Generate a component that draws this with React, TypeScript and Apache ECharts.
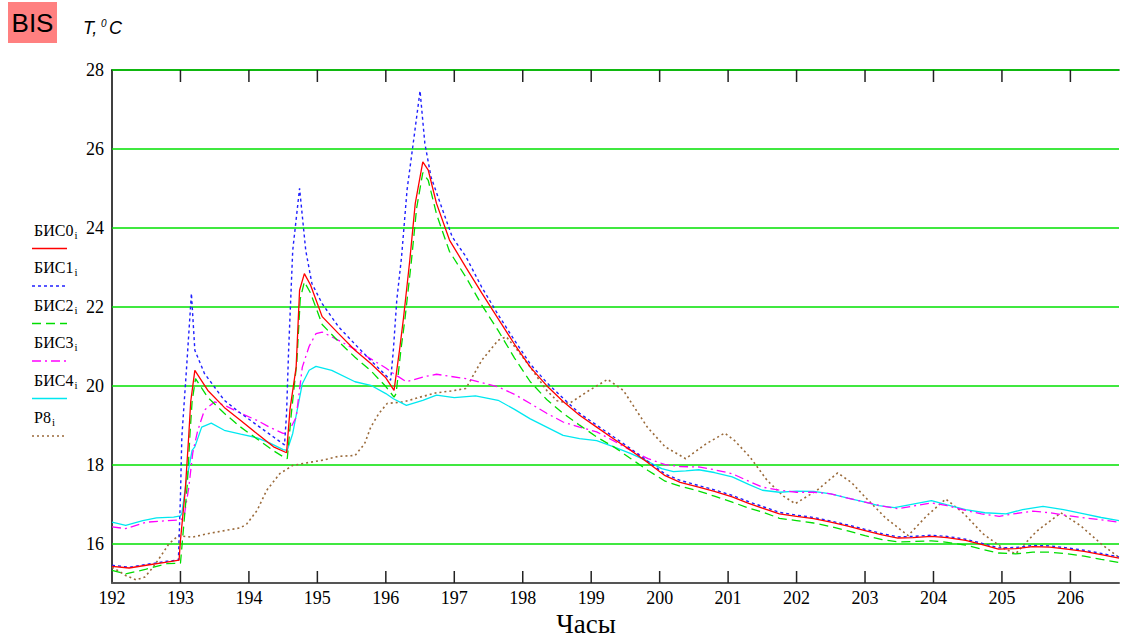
import React, { useEffect, useRef } from "react";
import * as echarts from "echarts";

const X_MIN = 192;
const X_MAX = 206.71;
const Y_MIN = 15;
const Y_MAX = 28;
const GRID_VALUES = [16, 18, 20, 22, 24, 26, 28];
const X_TICKS = [193, 194, 195, 196, 197, 198, 199, 200, 201, 202, 203, 204, 205, 206];

const SERIES_NAMES = ["БИС0", "БИС1", "БИС2", "БИС3", "БИС4", "P8"];

const BIS0: number[][] = [
  [192.0, 15.42], [192.25, 15.38], [192.5, 15.45], [192.8, 15.53], [192.98, 15.58], [193.0, 16.08], [193.07, 17.35], [193.12, 18.7], [193.15, 19.6], [193.21, 20.39], [193.4, 19.88], [193.64, 19.45], [193.88, 19.12], [194.12, 18.78], [194.36, 18.45], [194.55, 18.3], [194.6, 19.4], [194.69, 20.47], [194.74, 22.42], [194.81, 22.84], [194.9, 22.55], [195.07, 21.75], [195.31, 21.32], [195.55, 20.9], [195.78, 20.56], [196.0, 20.2], [196.12, 19.88], [196.2, 20.9], [196.26, 21.74], [196.35, 23.18], [196.43, 24.62], [196.54, 25.67], [196.62, 25.46], [196.74, 24.62], [196.93, 23.69], [197.17, 23.0], [197.4, 22.35], [197.64, 21.7], [197.88, 21.05], [198.11, 20.47], [198.35, 20.0], [198.59, 19.6], [198.83, 19.25], [199.08, 18.95], [199.33, 18.65], [199.58, 18.36], [199.83, 18.05], [200.08, 17.72], [200.3, 17.55], [200.57, 17.43], [200.8, 17.32], [201.06, 17.18], [201.3, 17.02], [201.5, 16.9], [201.75, 16.75], [202.0, 16.69], [202.25, 16.63], [202.5, 16.54], [202.75, 16.44], [203.0, 16.33], [203.25, 16.22], [203.48, 16.14], [203.7, 16.15], [203.97, 16.18], [204.2, 16.15], [204.47, 16.08], [204.7, 15.98], [204.95, 15.86], [205.2, 15.87], [205.45, 15.92], [205.7, 15.91], [205.95, 15.86], [206.2, 15.8], [206.45, 15.72], [206.71, 15.63],
];

const BIS1: number[][] = [
  [192.0, 15.45], [192.25, 15.4], [192.5, 15.47], [192.8, 15.55], [192.97, 15.58], [193.0, 17.2], [193.02, 18.7], [193.09, 20.47], [193.16, 22.34], [193.21, 20.9], [193.35, 20.31], [193.64, 19.63], [193.88, 19.3], [194.12, 19.0], [194.36, 18.7], [194.52, 18.5], [194.55, 19.3], [194.58, 20.9], [194.64, 23.43], [194.74, 25.0], [194.83, 23.43], [194.92, 22.59], [195.07, 22.08], [195.31, 21.49], [195.55, 21.05], [195.78, 20.64], [196.07, 20.14], [196.11, 20.9], [196.16, 22.17], [196.23, 23.27], [196.31, 24.96], [196.4, 26.14], [196.5, 27.47], [196.57, 26.14], [196.66, 25.29], [196.83, 24.45], [196.97, 23.77], [197.17, 23.27], [197.4, 22.5], [197.64, 21.8], [197.88, 21.15], [198.11, 20.55], [198.35, 20.08], [198.59, 19.68], [198.83, 19.3], [199.08, 19.0], [199.33, 18.7], [199.58, 18.4], [199.83, 18.08], [200.08, 17.76], [200.3, 17.6], [200.57, 17.47], [200.8, 17.36], [201.06, 17.22], [201.3, 17.06], [201.5, 16.94], [201.75, 16.79], [202.0, 16.72], [202.25, 16.66], [202.5, 16.57], [202.75, 16.47], [203.0, 16.36], [203.25, 16.25], [203.48, 16.17], [203.7, 16.18], [203.97, 16.21], [204.2, 16.18], [204.47, 16.11], [204.7, 16.01], [204.95, 15.89], [205.2, 15.9], [205.45, 15.95], [205.7, 15.94], [205.95, 15.89], [206.2, 15.83], [206.45, 15.75], [206.71, 15.66],
];

const BIS2: number[][] = [
  [192.0, 15.32], [192.2, 15.23], [192.5, 15.35], [192.8, 15.49], [193.0, 15.5], [193.03, 16.1], [193.1, 17.5], [193.14, 18.8], [193.17, 19.6], [193.22, 20.18], [193.4, 19.7], [193.64, 19.3], [193.88, 18.95], [194.12, 18.65], [194.36, 18.35], [194.52, 18.18], [194.56, 18.15], [194.62, 19.3], [194.7, 20.6], [194.75, 22.2], [194.81, 22.63], [194.9, 22.35], [195.07, 21.55], [195.31, 21.12], [195.55, 20.72], [195.78, 20.38], [196.0, 19.98], [196.12, 19.71], [196.15, 19.8], [196.22, 20.9], [196.28, 21.7], [196.37, 23.1], [196.45, 24.5], [196.54, 25.4], [196.62, 25.2], [196.74, 24.35], [196.93, 23.4], [197.17, 22.75], [197.4, 22.05], [197.64, 21.4], [197.88, 20.7], [198.11, 20.1], [198.35, 19.65], [198.59, 19.3], [198.83, 19.0], [199.08, 18.7], [199.33, 18.45], [199.58, 18.15], [199.83, 17.85], [200.08, 17.58], [200.3, 17.45], [200.57, 17.33], [200.8, 17.2], [201.06, 17.05], [201.3, 16.9], [201.5, 16.8], [201.75, 16.64], [202.0, 16.58], [202.25, 16.52], [202.5, 16.43], [202.75, 16.32], [203.0, 16.2], [203.25, 16.1], [203.48, 16.04], [203.7, 16.05], [203.97, 16.07], [204.2, 16.03], [204.47, 15.96], [204.7, 15.86], [204.95, 15.76], [205.2, 15.74], [205.45, 15.78], [205.7, 15.78], [205.95, 15.74], [206.2, 15.68], [206.45, 15.6], [206.71, 15.52],
];

const BIS3: number[][] = [
  [192.0, 16.42], [192.2, 16.38], [192.5, 16.54], [192.8, 16.58], [193.0, 16.6], [193.05, 16.65], [193.12, 17.4], [193.18, 18.3], [193.25, 18.85], [193.35, 19.38], [193.5, 19.59], [193.65, 19.5], [193.88, 19.3], [194.12, 19.12], [194.3, 18.95], [194.5, 18.79], [194.57, 18.8], [194.69, 19.2], [194.78, 20.47], [194.88, 21.0], [194.98, 21.32], [195.07, 21.36], [195.31, 21.15], [195.55, 20.92], [195.78, 20.68], [196.0, 20.45], [196.11, 20.31], [196.3, 20.1], [196.54, 20.22], [196.74, 20.29], [196.93, 20.24], [197.17, 20.18], [197.4, 20.08], [197.64, 19.97], [197.88, 19.78], [198.11, 19.55], [198.35, 19.3], [198.59, 19.08], [198.83, 18.95], [199.08, 18.83], [199.33, 18.6], [199.58, 18.36], [199.83, 18.15], [200.08, 18.0], [200.3, 17.95], [200.57, 17.94], [200.8, 17.87], [201.06, 17.77], [201.3, 17.58], [201.5, 17.43], [201.75, 17.35], [202.0, 17.3], [202.25, 17.3], [202.5, 17.26], [202.75, 17.15], [203.0, 17.05], [203.25, 16.95], [203.48, 16.88], [203.7, 16.95], [203.97, 17.03], [204.2, 16.96], [204.47, 16.84], [204.7, 16.75], [204.96, 16.69], [205.2, 16.76], [205.45, 16.82], [205.7, 16.78], [205.95, 16.71], [206.2, 16.65], [206.45, 16.6], [206.71, 16.54],
];

const BIS4: number[][] = [
  [192.0, 16.54], [192.2, 16.46], [192.45, 16.58], [192.65, 16.65], [192.9, 16.67], [193.0, 16.7], [193.02, 16.76], [193.08, 17.52], [193.17, 18.36], [193.21, 18.45], [193.31, 18.95], [193.45, 19.05], [193.64, 18.87], [193.88, 18.77], [194.12, 18.68], [194.3, 18.55], [194.5, 18.38], [194.56, 18.36], [194.64, 18.79], [194.78, 20.05], [194.88, 20.39], [194.98, 20.49], [195.21, 20.39], [195.55, 20.1], [195.78, 20.01], [196.0, 19.8], [196.11, 19.67], [196.3, 19.5], [196.54, 19.63], [196.74, 19.76], [197.0, 19.7], [197.31, 19.74], [197.64, 19.63], [197.88, 19.4], [198.11, 19.16], [198.35, 18.95], [198.59, 18.74], [198.83, 18.66], [199.08, 18.61], [199.33, 18.45], [199.58, 18.28], [199.83, 18.08], [200.03, 17.9], [200.2, 17.82], [200.38, 17.84], [200.57, 17.87], [200.8, 17.8], [201.06, 17.69], [201.3, 17.5], [201.5, 17.35], [201.75, 17.3], [202.0, 17.33], [202.25, 17.32], [202.5, 17.26], [202.75, 17.15], [203.0, 17.05], [203.2, 16.96], [203.43, 16.91], [203.7, 17.0], [203.97, 17.09], [204.2, 16.98], [204.47, 16.86], [204.75, 16.78], [205.06, 16.75], [205.3, 16.86], [205.6, 16.94], [205.9, 16.86], [206.2, 16.75], [206.45, 16.66], [206.71, 16.58],
];

const P8: number[][] = [
  [192.0, 15.4], [192.1, 15.3], [192.2, 15.19], [192.35, 15.08], [192.48, 15.15], [192.6, 15.4], [192.72, 15.7], [192.83, 15.99], [192.97, 16.2], [193.17, 16.16], [193.4, 16.25], [193.65, 16.33], [193.88, 16.4], [193.97, 16.5], [194.12, 16.84], [194.26, 17.35], [194.45, 17.77], [194.64, 17.98], [194.93, 18.07], [195.1, 18.12], [195.31, 18.21], [195.55, 18.23], [195.69, 18.53], [195.78, 18.95], [195.9, 19.3], [196.02, 19.55], [196.26, 19.59], [196.5, 19.71], [196.74, 19.82], [196.97, 19.87], [197.17, 19.93], [197.4, 20.64], [197.64, 21.15], [197.76, 21.24], [197.9, 20.95], [198.11, 20.47], [198.35, 19.88], [198.5, 19.62], [198.68, 19.55], [198.97, 19.88], [199.24, 20.16], [199.47, 19.88], [199.65, 19.4], [199.82, 18.95], [200.08, 18.45], [200.38, 18.15], [200.68, 18.53], [200.95, 18.8], [201.1, 18.6], [201.32, 18.19], [201.57, 17.6], [201.81, 17.2], [201.98, 17.01], [202.3, 17.35], [202.6, 17.79], [202.8, 17.55], [203.0, 17.18], [203.3, 16.65], [203.63, 16.2], [203.9, 16.7], [204.18, 17.13], [204.45, 16.75], [204.72, 16.25], [205.0, 15.9], [205.2, 15.74], [205.5, 16.3], [205.86, 16.78], [206.15, 16.45], [206.45, 15.99], [206.71, 15.65],
];

const SERIES_DATA = [BIS0, BIS1, BIS2, BIS3, BIS4, P8];
const SERIES_COLORS = ["#ff0000", "#2020ff", "#00dd00", "#ff00ff", "#00e8f0", "#9a6a3a"];
const SERIES_DASH: any[] = ["solid", [3, 3], [9, 5], [9, 4, 2, 4], "solid", [2, 3]];
const SERIES_WIDTH = [1.3, 1.4, 1.3, 1.3, 1.3, 1.6];

const SERIF = "Liberation Serif";
const SANS = "Liberation Sans";

export default function App() {
  const ref = useRef<HTMLDivElement>(null);

  useEffect(() => {
    document.body.style.margin = "0";
    if (!ref.current) return;
    const chart = echarts.init(ref.current, null, { renderer: "svg" });

    const series: any[] = SERIES_NAMES.map((name, i) => ({
      name,
      type: "line",
      xAxisIndex: 0,
      data: SERIES_DATA[i],
      showSymbol: false,
      symbol: "none",
      z: 10 - i,
      lineStyle: { color: SERIES_COLORS[i], width: SERIES_WIDTH[i], type: SERIES_DASH[i] },
    }));

    series[5].markLine = {
      silent: true,
      symbol: ["none", "none"],
      label: { show: false },
      z: 1,
      lineStyle: { color: "#00e000", width: 1.6, type: "solid" },
      data: GRID_VALUES.map((v) => ({ yAxis: v })),
    };

    const legend: any[] = [];
    SERIES_NAMES.forEach((name, i) => {
      const ty = 230 + 37.5 * i;
      const ly = 248.5 + 37.5 * i;
      legend.push({
        type: "text",
        x: 34,
        y: ty,
        style: {
          text: `{a|${name}}{s|i}`,
          verticalAlign: "middle",
          rich: {
            a: { fontSize: 16, fontFamily: SERIF, fill: "#000" },
            s: { fontSize: 11, fontFamily: SERIF, fill: "#000", padding: [9, 0, 0, 1] },
          },
        },
      });
      legend.push({
        type: "line",
        shape: { x1: 32, y1: ly, x2: 67, y2: ly },
        style: { stroke: SERIES_COLORS[i], lineWidth: SERIES_WIDTH[i], lineDash: SERIES_DASH[i] === "solid" ? null : SERIES_DASH[i] },
      });
    });

    const staticGraphic: any[] = [
      { type: "rect", shape: { x: 8, y: 2, width: 49, height: 41 }, style: { fill: "#ff8080" } },
      {
        type: "text",
        x: 32.5,
        y: 23,
        style: { text: "BIS", fontSize: 26, fontFamily: SANS, fill: "#000", align: "center", verticalAlign: "middle" },
      },
      {
        type: "text",
        x: 83,
        y: 28,
        style: { text: "T,", fontSize: 18, fontStyle: "italic", fontFamily: SANS, fill: "#000", verticalAlign: "middle" },
      },
      {
        type: "text",
        x: 101,
        y: 23,
        style: { text: "0", fontSize: 10, fontStyle: "italic", fontFamily: SANS, fill: "#000", verticalAlign: "middle" },
      },
      {
        type: "text",
        x: 109,
        y: 28,
        style: { text: "C", fontSize: 18, fontStyle: "italic", fontFamily: SANS, fill: "#000", verticalAlign: "middle" },
      },
      {
        type: "text",
        x: 586,
        y: 624,
        style: { text: "Часы", fontSize: 27, fontFamily: SERIF, fill: "#000", align: "center", verticalAlign: "middle" },
      },
      ...legend,
    ];

    chart.setOption({
      animation: false,
      backgroundColor: "#fff",
      textStyle: { fontFamily: SERIF },
      grid: { left: 112, right: 0, top: 70, bottom: 55, containLabel: false },
      xAxis: [
        {
          type: "value",
          min: X_MIN,
          max: X_MAX,
          interval: 1,
          position: "bottom",
          axisLine: { show: true, onZero: false, lineStyle: { color: "#555", width: 2 } },
          axisTick: { show: false },
          splitLine: { show: false },
          axisLabel: {
            show: true,
            margin: 6,
            fontSize: 18,
            fontFamily: SERIF,
            color: "#000",
            formatter: (v: number) => (Number.isInteger(v) ? String(v) : ""),
          },
        },
        {
          type: "value",
          min: X_MIN,
          max: X_MAX,
          interval: 1,
          position: "top",
          axisLine: { show: true, onZero: false, lineStyle: { color: "#000", width: 1.5 } },
          axisTick: { show: false },
          splitLine: { show: false },
          axisLabel: { show: false },
        },
      ],
      yAxis: {
        type: "value",
        min: Y_MIN,
        max: Y_MAX,
        interval: 1,
        axisLine: { show: true, onZero: false, lineStyle: { color: "#000", width: 1.5 } },
        axisTick: { show: false },
        splitLine: { show: false },
        axisLabel: {
          margin: 8,
          fontSize: 18,
          fontFamily: SERIF,
          color: "#000",
          formatter: (v: number) => (v % 2 === 0 ? String(v) : ""),
        },
      },
      series,
      graphic: staticGraphic,
    });

    // inward tick marks on the bottom and top axes, positioned via the axis scales
    const yBottom = chart.convertToPixel({ yAxisIndex: 0 }, Y_MIN) as number;
    const yTop = chart.convertToPixel({ yAxisIndex: 0 }, Y_MAX) as number;
    const ticks: any[] = [];
    X_TICKS.forEach((t) => {
      const px = chart.convertToPixel({ xAxisIndex: 0 }, t) as number;
      ticks.push({
        type: "line",
        z: 50,
        shape: { x1: px, y1: yBottom, x2: px, y2: yBottom - 12 },
        style: { stroke: "#222", lineWidth: 1.5 },
      });
      ticks.push({
        type: "line",
        z: 50,
        shape: { x1: px, y1: yTop, x2: px, y2: yTop + 12 },
        style: { stroke: "#222", lineWidth: 1.5 },
      });
    });
    chart.setOption({ graphic: [...staticGraphic, ...ticks] }, { replaceMerge: ["graphic"] });

    return () => chart.dispose();
  }, []);

  return <div ref={ref} style={{ width: 1122, height: 638 }} />;
}
